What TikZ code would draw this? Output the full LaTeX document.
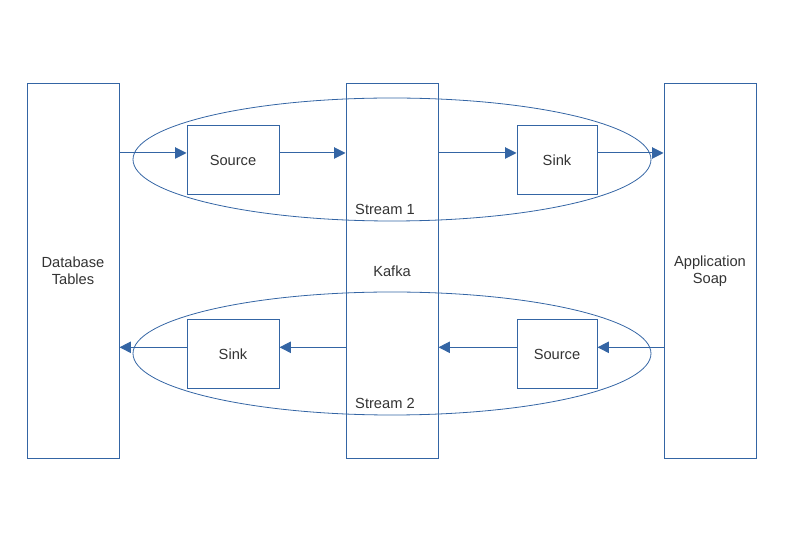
\documentclass[tikz,border=0pt]{standalone}
\usepackage{fontspec}
\setmainfont{Liberation Sans}
\usepackage{xcolor}
\usepackage{tikz}
\usetikzlibrary{arrows.meta,positioning,calc}
\definecolor{kbleu}{HTML}{3465A4}
\definecolor{ktexte}{HTML}{333333}

\begin{document}
\begin{tikzpicture}[x=0.75pt, y=-0.75pt,
  every node/.style={font=\fontsize{11}{12.5}\selectfont, text=ktexte},
  colonne/.style={draw=kbleu, line width=0.75pt, minimum width=69pt, minimum height=281.25pt, align=center, inner sep=0pt},
  boite/.style={draw=kbleu, line width=0.75pt, minimum height=51.75pt, inner sep=0pt},
  flux/.style={kbleu, line width=0.75pt, -{Triangle[length=8.5pt,width=8.5pt]}}]
  \useasboundingbox (0,0) rectangle (794,559);
  % colonnes
  \node[colonne] (db) at (73,271) {Database\\Tables};
  \node[colonne] (kafka) at (392,271) {Kafka};
  \node[colonne] (app) at (710,271) {Application\\Soap};
  % streams
  \draw[kbleu, line width=0.6pt] (392,159.5) ellipse [x radius=259, y radius=61.5];
  \draw[kbleu, line width=0.6pt] (392,353.5) ellipse [x radius=259, y radius=61.5];
  \node (st1) at (385,209) {Stream 1};
  \node (st2) at (385,403) {Stream 2};
  % connecteurs
  \node[boite, minimum width=69pt] (src1) at (233,160) {Source};
  \node[boite, minimum width=60pt] (sink1) at (557,160) {Sink};
  \node[boite, minimum width=69pt] (sink2) at (233,354) {Sink};
  \node[boite, minimum width=60pt] (src2) at (557,354) {Source};
  \coordinate (r1) at (0,153);
  \coordinate (r2) at (0,347.3);
  % stream 1 : db vers app
  \draw[flux] (db.east |- r1) -- (src1.west |- r1);
  \draw[flux] (src1.east |- r1) -- (kafka.west |- r1);
  \draw[flux] (kafka.east |- r1) -- (sink1.west |- r1);
  \draw[flux] (sink1.east |- r1) -- (app.west |- r1);
  % stream 2 : app vers db
  \draw[flux] (app.west |- r2) -- (src2.east |- r2);
  \draw[flux] (src2.west |- r2) -- (kafka.east |- r2);
  \draw[flux] (kafka.west |- r2) -- (sink2.east |- r2);
  \draw[flux] (sink2.west |- r2) -- (db.east |- r2);
\end{tikzpicture}
\end{document}
